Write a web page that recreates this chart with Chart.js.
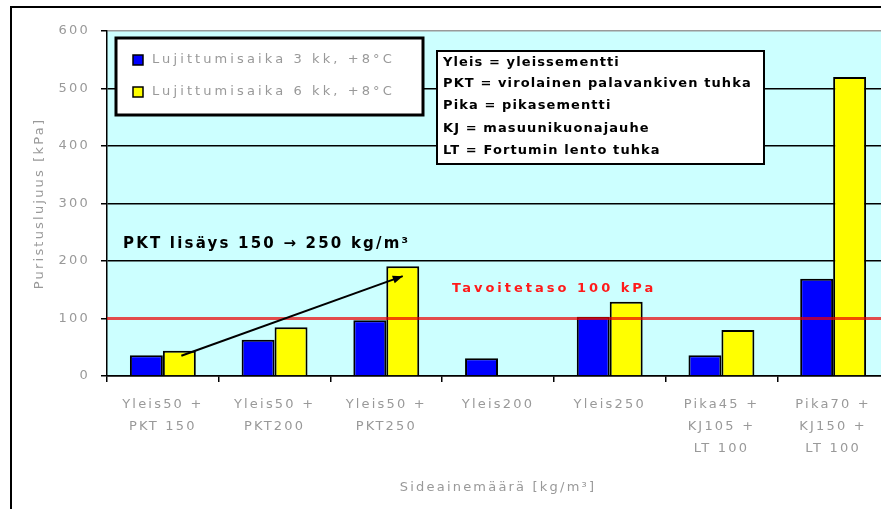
<!DOCTYPE html>
<html>
<head>
<meta charset="utf-8">
<script src="https://cdn.jsdelivr.net/npm/chart.js@4/dist/chart.umd.min.js"></script>
<style>
  html, body { margin: 0; padding: 0; background: #fff; overflow: hidden; width: 881px; height: 509px; }
  canvas { display: block; }
</style>
</head>
<body>
<canvas id="c" width="900" height="509"></canvas>
<script>
// Binder mixes (kg/m3) on the x axis
const categories = [
  ['Yleis50 +', 'PKT 150'],
  ['Yleis50 +', 'PKT200'],
  ['Yleis50 +', 'PKT250'],
  'Yleis200',
  'Yleis250',
  ['Pika45 +', 'KJ105 +', 'LT 100'],
  ['Pika70 +', 'KJ150 +', 'LT 100']
];

// Compressive strength (kPa) after each curing time
const seriesLabels = ['Lujittumisaika 3 kk, +8°C', 'Lujittumisaika 6 kk, +8°C'];
const strength3kk = [36, 63, 97, 31, 103, 36, 169];
const strength6kk = [44, 85, 191, null, 129, 80, 520];

// Value axis
const yMin = 0;
const yMax = 600;
const yStep = 100;

// Target level and notes
const targetLevel = 100;
const targetLabel = 'Tavoitetaso 100 kPa';
const pktNote = 'PKT lisäys 150 → 250 kg/m³';
const abbreviations = [
  'Yleis = yleissementti',
  'PKT = virolainen palavankiven tuhka',
  'Pika = pikasementti',
  'KJ = masuunikuonajauhe',
  'LT = Fortumin lento tuhka'
];

const GREY_TEXT = '#999999';
const FONT = 'DejaVu Sans, Verdana, sans-serif';

const decorations = {
  id: 'decorations',
  beforeDraw(chart) {
    const ctx = chart.ctx;
    const a = chart.chartArea;
    ctx.save();
    ctx.fillStyle = '#ffffff';
    ctx.fillRect(0, 0, chart.width, chart.height);
    // outer frame
    ctx.strokeStyle = '#000';
    ctx.lineWidth = 2;
    ctx.beginPath();
    ctx.moveTo(11, chart.height + 5);
    ctx.lineTo(11, 7);
    ctx.lineTo(chart.width + 5, 7);
    ctx.stroke();
    // plot area fill
    ctx.fillStyle = '#ccffff';
    ctx.fillRect(a.left, a.top, a.right - a.left, a.bottom - a.top);
    ctx.restore();
    // spaced lettering for axis text
    ctx.letterSpacing = '2.2px';
  },
  afterDatasetsDraw(chart) {
    const ctx = chart.ctx;
    const a = chart.chartArea;
    const y = chart.scales.y;
    ctx.save();

    // target level line
    const ty = y.getPixelForValue(targetLevel);
    ctx.strokeStyle = 'rgba(235, 0, 0, 0.7)';
    ctx.lineWidth = 3;
    ctx.beginPath();
    ctx.moveTo(a.left, ty);
    ctx.lineTo(a.right, ty);
    ctx.stroke();

    ctx.letterSpacing = '3px';
    ctx.font = 'bold 13px ' + FONT;
    ctx.fillStyle = '#ff1a1a';
    ctx.textAlign = 'left';
    ctx.textBaseline = 'middle';
    ctx.fillText(targetLabel, a.left + 345, ty - 30);

    // PKT increase arrow between the 6 kk bars
    const meta = chart.getDatasetMeta(1);
    const b0 = meta.data[0];
    const b2 = meta.data[2];
    const x0 = b0.x + 2, y0 = b0.y + 5;
    const x1 = b2.x, y1 = b2.y + 10;
    ctx.strokeStyle = '#000';
    ctx.fillStyle = '#000';
    ctx.lineWidth = 2;
    ctx.beginPath();
    ctx.moveTo(x0, y0);
    ctx.lineTo(x1, y1);
    ctx.stroke();
    const ang = Math.atan2(y1 - y0, x1 - x0);
    const hl = 10, hw = 4;
    ctx.beginPath();
    ctx.moveTo(x1, y1);
    ctx.lineTo(x1 - hl * Math.cos(ang) + hw * Math.sin(ang), y1 - hl * Math.sin(ang) - hw * Math.cos(ang));
    ctx.lineTo(x1 - hl * Math.cos(ang) - hw * Math.sin(ang), y1 - hl * Math.sin(ang) + hw * Math.cos(ang));
    ctx.closePath();
    ctx.fill();

    // PKT note
    ctx.letterSpacing = '2.2px';
    ctx.font = 'bold 15px ' + FONT;
    ctx.fillStyle = '#000';
    ctx.fillText(pktNote, a.left + 16, y.getPixelForValue(230));

    // series legend box
    const lx = 116, ly = 38, lw = 307, lh = 77;
    ctx.fillStyle = '#fff';
    ctx.fillRect(lx, ly, lw, lh);
    ctx.strokeStyle = '#000';
    ctx.lineWidth = 3;
    ctx.strokeRect(lx, ly, lw, lh);
    ctx.font = '13px ' + FONT;
    ctx.letterSpacing = '3.1px';
    chart.data.datasets.forEach((ds, i) => {
      const cy = ly + 22 + i * 32;
      ctx.fillStyle = ds.backgroundColor;
      ctx.fillRect(133, cy - 5, 10, 10);
      ctx.lineWidth = 1.5;
      ctx.strokeStyle = '#000';
      ctx.strokeRect(133, cy - 5, 10, 10);
      ctx.fillStyle = GREY_TEXT;
      ctx.fillText(ds.label, 152, cy);
    });

    // abbreviation box
    const bx = 437, by = 51, bw = 327, bh = 113;
    ctx.fillStyle = '#fff';
    ctx.fillRect(bx, by, bw, bh);
    ctx.strokeStyle = '#000';
    ctx.lineWidth = 2;
    ctx.strokeRect(bx, by, bw, bh);
    ctx.font = 'bold 13px ' + FONT;
    ctx.letterSpacing = '1.1px';
    ctx.fillStyle = '#000';
    const rows = [63, 84, 106, 129, 151];
    abbreviations.forEach((t, i) => ctx.fillText(t, bx + 6, rows[i]));

    ctx.restore();
    ctx.letterSpacing = '2.2px';
  }
};

new Chart(document.getElementById('c'), {
  type: 'bar',
  data: {
    labels: categories,
    datasets: [
      {
        label: seriesLabels[0],
        data: strength3kk,
        backgroundColor: '#0000ff',
        borderColor: '#000',
        borderWidth: 2
      },
      {
        label: seriesLabels[1],
        data: strength6kk,
        backgroundColor: '#ffff00',
        borderColor: '#000',
        borderWidth: 2
      }
    ]
  },
  options: {
    responsive: false,
    animation: false,
    devicePixelRatio: 1,
    categoryPercentage: 0.59,
    barPercentage: 1.0,
    layout: { padding: { left: 0, top: 31, right: 11, bottom: 0 } },
    plugins: {
      legend: { display: false },
      tooltip: { enabled: false }
    },
    scales: {
      x: {
        afterFit(scale) { scale.height = 133; },
        grid: {
          offset: true,
          drawOnChartArea: false,
          drawTicks: true,
          tickLength: 6,
          color: '#000',
          lineWidth: 1.5
        },
        border: { color: '#000', width: 1.5 },
        ticks: {
          autoSkip: false,
          maxRotation: 0,
          minRotation: 0,
          padding: 11,
          color: GREY_TEXT,
          font: { family: FONT, size: 13, lineHeight: 1.72 }
        },
        title: {
          display: true,
          text: 'Sideainemäärä [kg/m³]',
          color: GREY_TEXT,
          font: { family: FONT, size: 13 },
          padding: { top: 0, bottom: 14 }
        }
      },
      y: {
        min: yMin,
        max: yMax,
        afterFit(scale) { scale.width = 107; },
        ticks: {
          stepSize: yStep,
          padding: 11,
          color: GREY_TEXT,
          font: { family: FONT, size: 13 }
        },
        grid: {
          color: (c) => {
            if (!c.tick) return '#000';
            if (c.tick.value === yMax) return '#9a9a9a';
            if (c.tick.value === targetLevel) return 'rgba(0,0,0,0)';
            return '#000';
          },
          tickColor: '#000',
          lineWidth: 1.5,
          tickLength: 6
        },
        border: { color: '#000', width: 1.5 },
        title: {
          display: true,
          text: 'Puristuslujuus [kPa]',
          color: GREY_TEXT,
          font: { family: FONT, size: 13 },
          padding: { top: 32, bottom: 0 }
        }
      }
    }
  },
  plugins: [decorations]
});
</script>
</body>
</html>
